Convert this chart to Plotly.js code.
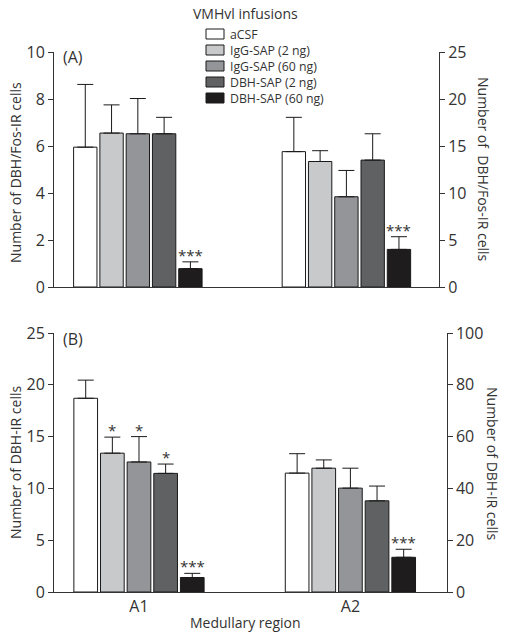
<!DOCTYPE html>
<html><head><meta charset="utf-8">
<script src="https://cdn.plot.ly/plotly-3.0.1.min.js"></script>
<style>body{margin:0;background:#fff}</style>
</head><body><div id="chart" style="width:505px;height:637px"></div>
<script>
// ---- data ----
const series = ['aCSF','IgG-SAP (2 ng)','IgG-SAP (60 ng)','DBH-SAP (2 ng)','DBH-SAP (60 ng)'];
const regions = ['A1','A2'];
// Panel A (DBH/Fos-IR): A1 on left axis (0-10), A2 on right axis (0-25)
const fosA1Mean = [5.95, 6.55, 6.52, 6.52, 0.78];
const fosA1Sem  = [2.67, 1.20, 1.50, 0.70, 0.29];
const fosA2Mean = [14.4, 13.35, 9.6, 13.5, 4.0];
const fosA2Sem  = [3.65, 1.15, 2.8, 2.8, 1.35];
// Panel B (DBH-IR): A1 on left axis (0-25), A2 on right axis (0-100)
const dbhA1Mean = [18.7, 13.4, 12.55, 11.45, 1.4];
const dbhA1Sem  = [1.75, 1.55, 2.45, 0.9, 0.4];
const dbhA2Mean = [45.9, 47.8, 40.1, 35.2, 13.4];
const dbhA2Sem  = [7.5, 3.2, 7.7, 5.7, 3.1];
// significance marks
const fosA1Sig = ['', '', '', '', '***'];
const fosA2Sig = ['', '', '', '', '***'];
const dbhA1Sig = ['', '*', '*', '*', '***'];
const dbhA2Sig = ['', '', '', '', '***'];

// ---- styling ----
const colors = ['#ffffff', '#c8c9cb', '#939598', '#606163', '#1e1c1d'];
const FONT = 'Open Sans, Noto Sans, sans-serif';
const TXT = '#333333';
const step = 0.126, barW = 0.112;

const panels = [
  {xa: 'x',  yl: 'y',  yr: 'y2', data: [[fosA1Mean, fosA1Sem, fosA1Sig], [fosA2Mean, fosA2Sem, fosA2Sig]]},
  {xa: 'x2', yl: 'y3', yr: 'y4', data: [[dbhA1Mean, dbhA1Sem, dbhA1Sig], [dbhA2Mean, dbhA2Sem, dbhA2Sig]]}
];

const traces = [];
const annotations = [];
const shapes = [];
panels.forEach((p, pi) => {
  series.forEach((name, s) => {
    regions.forEach((reg, r) => {
      const [mean, sem, sig] = p.data[r];
      const xpos = r + (s - 2) * step;
      traces.push({
        type: 'bar', name: name, legendgroup: name, showlegend: false,
        x: [xpos], y: [mean[s]], width: [barW],
        xaxis: p.xa, yaxis: r === 0 ? p.yl : p.yr,
        marker: {color: colors[s], line: {color: '#1a1a1a', width: 1}},
        error_y: {type: 'data', symmetric: false, array: [sem[s]], arrayminus: [0],
                  color: '#1a1a1a', thickness: 1, width: 8},
        hovertemplate: reg + ' ' + name + ': %{y}<extra></extra>'
      });
      if (sig[s]) {
        annotations.push({
          x: xpos, y: mean[s] + sem[s], xref: p.xa, yref: r === 0 ? p.yl : p.yr,
          text: sig[s], showarrow: false, yanchor: 'bottom', yshift: -5,
          font: {family: FONT, size: 15, color: TXT}
        });
      }
    });
  });
});

// legend (drawn compactly, as in the reference): swatches + one multi-line label block
const legX0 = 206, legX1 = 224, legY0 = 34, legDy = 16;
series.forEach((name, s) => {
  const yc = legY0 + s * legDy;
  shapes.push({type: 'rect', xref: 'paper', yref: 'paper',
    x0: legX0/505, x1: legX1/505, y0: 1 - (yc - 5)/637, y1: 1 - (yc + 5)/637,
    fillcolor: colors[s], line: {color: '#1a1a1a', width: 1}});
});
annotations.push({text: series.join('<br>'), x: (legX1 + 4)/505,
  y: 1 - (legY0 + 2 * legDy)/637, xref: 'paper', yref: 'paper',
  xanchor: 'left', yanchor: 'middle', align: 'left', showarrow: false,
  font: {family: FONT, size: legDy / 1.3, color: TXT}});

const axisBase = {
  showline: true, linecolor: '#333', linewidth: 1, showgrid: false, zeroline: false,
  ticks: 'outside', ticklen: 5, tickcolor: '#333', tickwidth: 1,
  tickfont: {family: FONT, size: 16, color: TXT}
};
const titleFont = {family: FONT, size: 14, color: TXT};

annotations.push(
  {text: 'VMHvl infusions', x: 245/505, y: 1 - 13/637, xref: 'paper', yref: 'paper',
   xanchor: 'center', yanchor: 'middle', showarrow: false, font: titleFont},
  {text: '(A)', x: 61/505, y: 1 - 57/637, xref: 'paper', yref: 'paper', xanchor: 'left', yanchor: 'middle',
   showarrow: false, font: {family: FONT, size: 16, color: TXT}},
  {text: '(B)', x: 61/505, y: 1 - 339/637, xref: 'paper', yref: 'paper', xanchor: 'left', yanchor: 'middle',
   showarrow: false, font: {family: FONT, size: 16, color: TXT}},
  // axis titles
  {text: 'Number of DBH/Fos-IR cells', x: 15/505, y: 1 - 173/637, xref: 'paper', yref: 'paper',
   xanchor: 'center', yanchor: 'middle', textangle: -90, showarrow: false, font: titleFont},
  {text: 'Number of DBH-IR cells', x: 15/505, y: 1 - 463/637, xref: 'paper', yref: 'paper',
   xanchor: 'center', yanchor: 'middle', textangle: -90, showarrow: false, font: titleFont},
  {text: 'Number of  DBH/Fos-IR cells', x: 484/505, y: 1 - 169/637, xref: 'paper', yref: 'paper',
   xanchor: 'center', yanchor: 'middle', textangle: 90, showarrow: false, font: titleFont},
  {text: 'Number of DBH-IR cells', x: 493/505, y: 1 - 463/637, xref: 'paper', yref: 'paper',
   xanchor: 'center', yanchor: 'middle', textangle: 90, showarrow: false, font: titleFont},
  {text: 'Medullary region', x: 245/505, y: 1 - 622/637, xref: 'paper', yref: 'paper',
   xanchor: 'center', yanchor: 'middle', showarrow: false, font: titleFont}
);

const layout = {
  width: 505, height: 637,
  margin: {l: 0, r: 0, t: 0, b: 0},
  paper_bgcolor: '#fff', plot_bgcolor: 'rgba(0,0,0,0)',
  font: {family: FONT, color: TXT},
  barmode: 'overlay',
  showlegend: false,
  xaxis: Object.assign({}, axisBase, {domain: [54/505, 439/505], range: [-0.402, 1.444],
           anchor: 'y', ticks: '', showticklabels: false}),
  yaxis: Object.assign({}, axisBase, {domain: [1 - 287/637, 1 - 52/637], range: [0, 10], dtick: 2, anchor: 'x'}),
  yaxis2: Object.assign({}, axisBase, {overlaying: 'y', side: 'right', anchor: 'x', range: [0, 25], dtick: 5}),
  xaxis2: Object.assign({}, axisBase, {domain: [54/505, 446.7/505], range: [-0.402, 1.4555],
           anchor: 'y3', ticks: '', tickvals: [0, 1], ticktext: regions}),
  yaxis3: Object.assign({}, axisBase, {domain: [1 - 592/637, 1 - 333/637], range: [0, 25], dtick: 5, anchor: 'x2'}),
  yaxis4: Object.assign({}, axisBase, {overlaying: 'y3', side: 'right', anchor: 'x2', range: [0, 100], dtick: 20}),
  shapes: shapes,
  annotations: annotations
};

Plotly.newPlot('chart', traces, layout, {displayModeBar: false});
</script>
</body></html>
